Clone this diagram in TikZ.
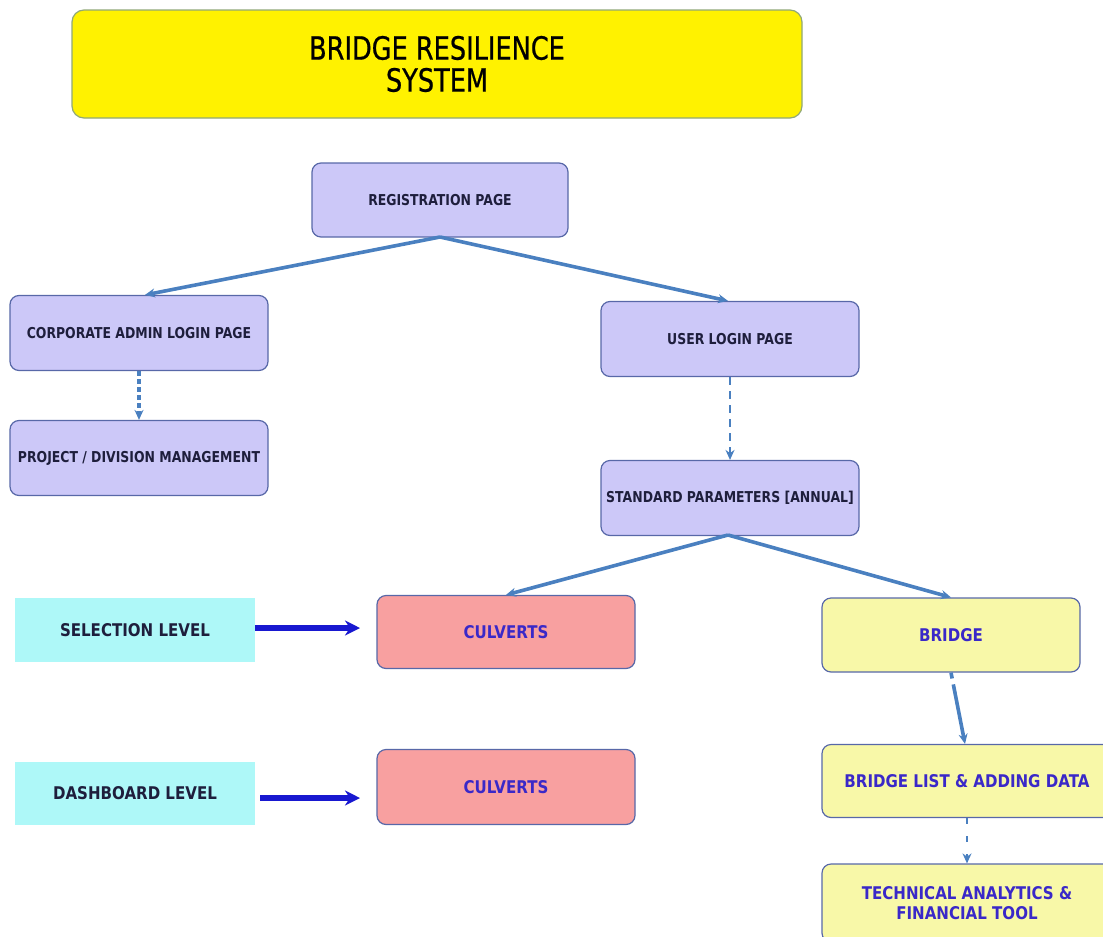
\documentclass[tikz,border=0pt]{standalone}
\usepackage{fontspec}
\setmainfont{DejaVu Sans}
\newfontfamily\ttlfont[FakeStretch=0.80,FakeBold=0.6]{DejaVu Sans}
\newfontfamily\lblfont[FakeStretch=0.86]{DejaVu Sans Bold}
\newfontfamily\lavfont[FakeStretch=0.83]{DejaVu Sans Bold}
\usetikzlibrary{arrows.meta}
\definecolor{lav}{HTML}{CCC8F8}
\definecolor{lavborder}{HTML}{5868A8}
\definecolor{pinkbox}{HTML}{F8A0A0}
\definecolor{lightyel}{HTML}{F8F8A8}
\definecolor{cyanbox}{HTML}{AEF8F8}
\definecolor{conn}{HTML}{4A80C0}
\definecolor{darkarrow}{HTML}{1818D0}
\definecolor{navytext}{HTML}{1E1E3C}
\definecolor{bluetext}{HTML}{3A28C8}
\definecolor{titleborder}{HTML}{90A878}
\begin{document}
\begin{tikzpicture}[x=1pt,y=-1pt,
  box/.style={draw=lavborder,line width=1.2pt,rounded corners=9pt,inner sep=0pt},
  lavbox/.style={box,fill=lav,text=navytext,font=\lavfont\fontsize{15}{17}\selectfont},
  culbox/.style={box,fill=pinkbox,text=bluetext,font=\lblfont\fontsize{17.5}{20}\selectfont},
  yelbox/.style={box,fill=lightyel,text=bluetext,font=\lblfont\fontsize{17.5}{20}\selectfont,align=center},
  levbox/.style={fill=cyanbox,inner sep=0pt,text=navytext,font=\lblfont\fontsize{17.5}{20}\selectfont},
  conline/.style={draw=conn,line width=3.6pt,-{Stealth[length=10pt,width=9pt]}},
  darrow/.style={draw=darkarrow,line width=5.5pt,-{Stealth[length=15pt,width=15pt]}}]
\useasboundingbox (0,0) rectangle (1103,937);
% title
\node[draw=titleborder,line width=1.2pt,fill=yellow,rounded corners=12pt,
  minimum width=730pt,minimum height=108pt,align=center,
  font=\ttlfont\fontsize{32}{32}\selectfont,text=black] (title) at (437,64)
  {BRIDGE RESILIENCE\\SYSTEM};
% lavender boxes
\node[lavbox,minimum width=256pt,minimum height=74pt] (reg) at (440,200) {REGISTRATION PAGE};
\node[lavbox,minimum width=258pt,minimum height=75pt] (corp) at (139,333) {CORPORATE ADMIN LOGIN PAGE};
\node[lavbox,minimum width=258pt,minimum height=75pt] (proj) at (139,458) {PROJECT / DIVISION MANAGEMENT};
\node[lavbox,minimum width=258pt,minimum height=75pt] (user) at (730,339) {USER LOGIN PAGE};
\node[lavbox,minimum width=258pt,minimum height=75pt] (std) at (730,498) {STANDARD PARAMETERS [ANNUAL]};
% level boxes
\node[levbox,minimum width=240pt,minimum height=64pt] (sel) at (135,630) {SELECTION LEVEL};
\node[levbox,minimum width=240pt,minimum height=63pt] (dash) at (135,793) {DASHBOARD LEVEL};
% culverts
\node[culbox,minimum width=258pt,minimum height=73pt] (cul1) at (506,632) {CULVERTS};
\node[culbox,minimum width=258pt,minimum height=75pt] (cul2) at (506,787) {CULVERTS};
% bridge column
\node[yelbox,minimum width=258pt,minimum height=74pt] (bridge) at (951,635) {BRIDGE};
\node[yelbox,minimum width=290pt,minimum height=73pt] (blist) at (967,781) {BRIDGE LIST \& ADDING DATA};
\node[yelbox,minimum width=290pt,minimum height=78pt] (tech) at (967,903) {TECHNICAL ANALYTICS \&\\FINANCIAL TOOL};
% connectors
\coordinate (regb) at (440,237);
\coordinate (stdb) at (728,535);
\coordinate (selend) at (360,628);
\coordinate (dashend) at (360,798);
\draw[conline] (regb) -- (corp.north -| 145,0);
\draw[conline] (regb) -- ([xshift=-2pt]user.north);
\draw[conline,dash pattern=on 5pt off 3pt] (corp.south) -- (proj.north);
\draw[conline,line width=2.6pt,dash pattern=on 8pt off 6pt] (user.south) -- (std.north);
\draw[conline] (stdb) -- (cul1.north);
\draw[conline] (stdb) -- (bridge.north);
\draw[conline,dash pattern=on 6pt off 6pt on 50pt off 0pt] (bridge.south) -- ([xshift=-2pt]blist.north);
\draw[conline,line width=2.6pt,dash pattern=on 6pt off 12pt] (blist.south) -- (tech.north);
\draw[darrow] (sel.east |- selend) -- (selend);
\draw[darrow] ([xshift=5pt]dash.east |- dashend) -- (dashend);
\end{tikzpicture}
\end{document}
